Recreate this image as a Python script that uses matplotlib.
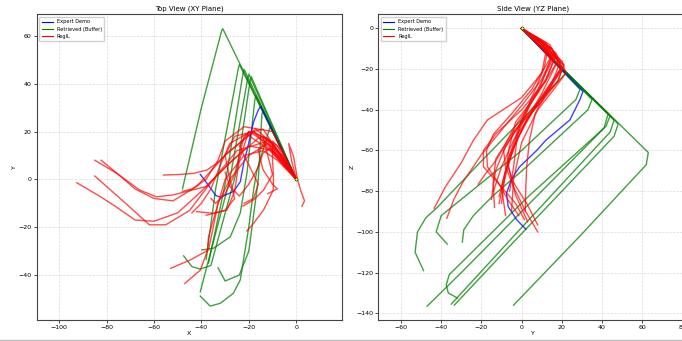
import matplotlib
matplotlib.use("Agg")
import matplotlib.pyplot as plt
from matplotlib.lines import Line2D

# expert demonstration (x, y, z waypoints)
EXPERT_X = [0, -15, -16, -18, -20.8, -22, -23.6, -26.4, -32, -34, -37, -40.5]
EXPERT_Y = [0, 30.5, 29, 24, 12, 7.5, -1, -5, -7.5, -6.7, -2.5, 2.1]
EXPERT_Z = [0, -31, -35, -45, -55, -60, -68, -74, -81, -87.6, -94, -98.7]

# retrieved trajectories from the buffer
BUFFER_X = [
    [0, -31, -31.5, -40, -48],
    [0, -24, -24.5, -34, -38],
    [0, -22, -22.5, -30, -37],
    [0, -20, -20.5, -28, -36, -40.5],
    [0, -19, -19.5, -25, -36, -40.5, -44, -47.5],
    [0, -17, -17.5, -20.8, -23.6, -27.8, -34.9, -39.8],
    [0, -14, -14.5, -16, -20, -24, -30, -33],
    [0, -11, -16.6, -18, -20, -23.6, -26.5, -32, -36.3, -40.5],
]
BUFFER_Y = [
    [0, 63, 62, 30, -4],
    [0, 48, 46, -4, -33.5],
    [0, 46, 44, -2, -35],
    [0, 44, 42, 0, -30, -47],
    [0, 43, 41, 4, -36, -37.5, -36.5, -32],
    [0, 35, 33, 2.5, -14, -24, -28.8, -29.5],
    [0, 29, 27, 0, -30, -40, -42.5, -37],
    [0, 22, 3.9, -4.5, -19.8, -42, -47.6, -51.8, -53, -48.8],
]
BUFFER_Z = [
    [0, -61, -67, -101, -136],
    [0, -47, -53, -105, -136],
    [0, -45, -51, -100, -135.5],
    [0, -43, -48, -90, -120, -136.5],
    [0, -42, -49, -82, -121, -126, -130, -132.5],
    [0, -35, -40, -68, -82, -92, -99, -105],
    [0, -30, -35, -60, -84, -92, -100, -106],
    [0, -22, -41, -49.5, -65, -88, -93, -100, -110, -119],
]

# RegIL rollouts
REGIL_X = [
    [0, -8, -14, -22, -30, -35, -37, -37.5, -40.5, -47],
    [0, -6, -12, -20, -28, -33, -35, -37, -44.7, -53],
    [0, -6, -10, -10, -9.6, -9.7, -11.7, -13.8, -18, -20.8],
    [0, -8, -14, -12, -10, -13.8, -18, -22.5],
    [0, -2, -3.2, -1.1, 0.5, 2, 3.5, 2.4],
    [0, -10, -20, -30, -40, -50, -60, -68, -76, -83, -92.6],
    [0, -12, -25, -35, -45, -55, -62, -72, -80, -85],
    [0, -15, -27, -38, -46, -52, -59, -66, -75.7, -85],
    [0, -18, -30, -42, -52, -60, -68, -75, -82.3],
    [0, -10, -18, -28, -33.5, -37.7, -43.3, -50, -56],
    [0, -12, -20, -24, -26, -29.2, -35, -42],
    [0, -10, -22, -30, -33, -38, -44, -48],
    [0, -14, -26, -30, -28, -26, -30, -38],
    [0, -6, -12, -16, -14, -10, -8, -12],
    [0, -12, -20, -24, -20, -16, -18, -22],
    [0, -9, -17, -22, -24, -26, -30, -34, -36],
    [0, -5, -11, -14, -16, -20, -24, -28, -30],
    [0, -11, -21, -28, -32, -36, -40, -44],
]
REGIL_Y = [
    [0, 8, 12, 10, 0, -17, -24, -30, -38, -43.5],
    [0, 10, 15, 10, 0, -10, -20, -29.5, -33.7, -37.2],
    [0, 12, 16, 8, 1, -4.5, -8.6, -12.8, -18.4, -21.6],
    [0, 14, 18, 10, 2, -4.5, -8.6, -11.2],
    [0, 8, 15, 9.5, 0, -5, -9, -11.2],
    [0, 12, 14, 5, -5, -14, -17.5, -17, -11.5, -7, -1.4],
    [0, 16, 12, 0, -13, -19, -19, -10, -3, 1.4],
    [0, 18, 8, -3, -5, -6.5, -7.3, -4.5, 2.5, 8],
    [0, 20, 10, -3, -9, -8, -4, 2, 8],
    [0, 15, 20, 12, 6.7, 3.9, 2.5, 2, 1.8],
    [0, 17, 20, 8, -5, -12.8, -14.2, -13.5],
    [0, 20, 22, 16, 8, 0, -4, -5],
    [0, 21, 18, 10, 0, -8, -13, -15],
    [0, 10, 17, 12, 4, -2, -4, -6],
    [0, 15, 20, 14, 6, -2, -8, -10],
    [0, 14, 21, 18, 10, 2, -6, -10, -8],
    [0, 7, 13, 11, 5, -2, -7, -3, 3],
    [0, 12, 19, 15, 6, -4, -10, -14],
]
REGIL_Z = [
    [0, -6, -12, -22, -34, -45, -55, -66, -78, -88.4],
    [0, -7, -14, -25, -38, -50, -62, -76, -84, -93.3],
    [0, -7, -14, -30, -42, -50, -58, -65, -72, -76.6],
    [0, -8, -16, -32, -46, -60, -72, -82.7],
    [0, -6, -14, -28, -45, -62, -76, -86],
    [0, -8, -15, -30, -42, -52, -60, -68, -76, -84, -92],
    [0, -15, -26, -40, -52, -60, -68, -78, -86, -94],
    [0, -16, -32, -46, -54, -60, -66, -75, -86, -96.6],
    [0, -20, -36, -50, -60, -68, -78, -90, -100],
    [0, -10, -20, -32, -42, -55, -68, -80, -90],
    [0, -12, -19, -36, -52, -64, -76, -88],
    [0, -16, -22, -30, -40, -56, -74, -90],
    [0, -18, -26, -36, -46, -58, -70, -84],
    [0, -6, -14, -25, -38, -52, -68, -80],
    [0, -10, -19, -28, -40, -54, -70, -86],
    [0, -9, -18, -26, -34, -46, -62, -78, -92],
    [0, -5, -11, -20, -34, -50, -66, -82, -95],
    [0, -9, -17, -27, -40, -55, -68, -80],
]

plt.rcParams["font.family"] = "DejaVu Sans"

W, H = 682, 341
fig = plt.figure(figsize=(W / 100, H / 100), dpi=100)
ax_xy = fig.add_axes([36.7 / W, 21 / H, 304.8 / W, 305.7 / H])
ax_yz = fig.add_axes([378.3 / W, 21 / H, 310 / W, 305.7 / H])


def draw_view(ax, h, v, buf_h, buf_v, reg_h, reg_v):
    ax.plot(h, v, color="blue", lw=1.0, alpha=0.75, zorder=3)
    for xs, ys in zip(buf_h, buf_v):
        ax.plot(xs, ys, color="green", lw=1.0, alpha=0.75, zorder=2)
    for xs, ys in zip(reg_h, reg_v):
        ax.plot(xs, ys, color="red", lw=1.0, alpha=0.7, zorder=4)
    ax.scatter([h[0]], [v[0]], s=5, c="yellow", edgecolors="black", linewidths=0.4, zorder=6)
    ax.grid(True, ls="--", lw=0.5, color="#cccccc", alpha=0.7)
    ax.tick_params(labelsize=4.5, length=2, width=0.5, pad=1.5)
    for sp in ax.spines.values():
        sp.set_linewidth(0.8)
        sp.set_color("#444444")
    handles = [
        Line2D([], [], color="blue", lw=0.8),
        Line2D([], [], color="green", lw=0.8),
        Line2D([], [], color="red", lw=0.8),
    ]
    ax.legend(handles, ["Expert Demo", "Retrieved (Buffer)", "RegIL"], loc="upper left",
              fontsize=3.6, frameon=True, borderpad=0.5, handlelength=2.2, labelspacing=0.45,
              fancybox=True, framealpha=0.9, edgecolor="#cccccc")


draw_view(ax_xy, EXPERT_X, EXPERT_Y, BUFFER_X, BUFFER_Y, REGIL_X, REGIL_Y)
ax_xy.set_xlim(-109.5, 19.1)
ax_xy.set_ylim(-58.8, 69)
ax_xy.set_xticks([-100, -80, -60, -40, -20, 0])
ax_xy.set_yticks([-40, -20, 0, 20, 40, 60])
ax_xy.set_title("Top View (XY Plane)", fontsize=5, pad=3)
ax_xy.set_xlabel("X", fontsize=4.5, labelpad=1)
ax_xy.set_ylabel("Y", fontsize=4.5, labelpad=1)

draw_view(ax_yz, EXPERT_Y, EXPERT_Z, BUFFER_Y, BUFFER_Z, REGIL_Y, REGIL_Z)
ax_yz.set_xlim(-71.3, 82.9)
ax_yz.set_ylim(-143.3, 6.9)
ax_yz.set_xticks([-60, -40, -20, 0, 20, 40, 60, 80])
ax_yz.set_yticks([-140, -120, -100, -80, -60, -40, -20, 0])
ax_yz.set_title("Side View (YZ Plane)", fontsize=5, pad=3)
ax_yz.set_xlabel("Y", fontsize=4.5, labelpad=1)
ax_yz.set_ylabel("Z", fontsize=4.5, labelpad=1)

fig.add_artist(Line2D([0, 1], [1.5 / H, 1.5 / H], transform=fig.transFigure, color="#bbbbbb", lw=1))

fig.savefig("out.png", dpi=100)
